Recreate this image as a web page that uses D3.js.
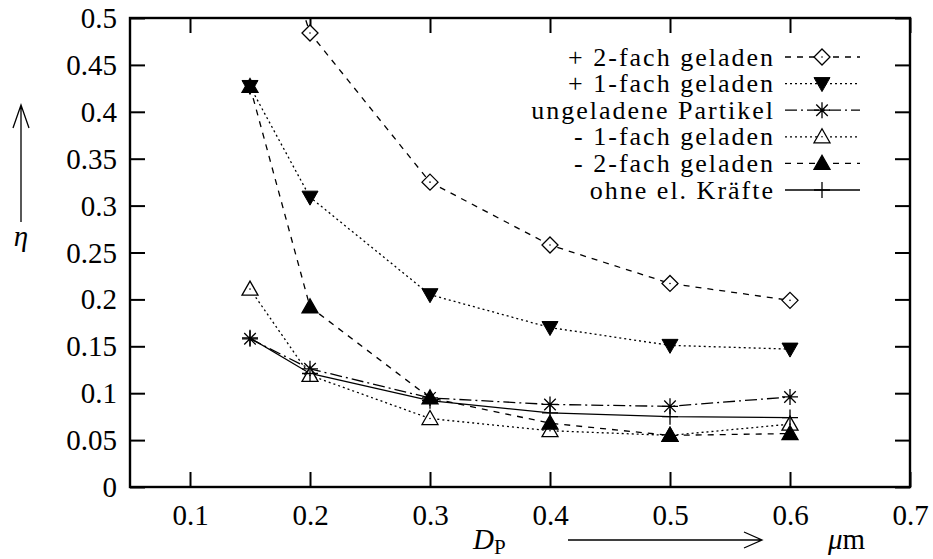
<!DOCTYPE html>
<html>
<head>
<meta charset="utf-8">
<script src="https://cdn.jsdelivr.net/npm/d3@7"></script>
<style>
  body { margin: 0; background: #fff; }
  svg { display: block; }
</style>
</head>
<body>
<div id="chart"></div>
<script>
// particle diameter in um
var diameters = [0.15, 0.2, 0.3, 0.4, 0.5, 0.6];

// separation efficiency eta for each charge state
var plus2 = [0.68, 0.484, 0.325, 0.258, 0.217, 0.199];
var plus1 = [0.427, 0.309, 0.205, 0.170, 0.151, 0.147];
var neutral = [0.158, 0.126, 0.095, 0.088, 0.086, 0.096];
var minus1 = [0.211, 0.119, 0.073, 0.060, 0.055, 0.067];
var minus2 = [0.427, 0.192, 0.095, 0.068, 0.055, 0.057];
var noForces = [0.159, 0.121, 0.092, 0.079, 0.075, 0.074];

var seriesNames = ["+ 2-fach geladen", "+ 1-fach geladen", "ungeladene Partikel",
  "- 1-fach geladen", "- 2-fach geladen", "ohne el. Kräfte"];

var xTicks = [0.1, 0.2, 0.3, 0.4, 0.5, 0.6, 0.7];
var yTicks = [0, 0.05, 0.1, 0.15, 0.2, 0.25, 0.3, 0.35, 0.4, 0.45, 0.5];

var series = [
  { name: seriesNames[0], values: plus2, dash: "6,6", marker: "diamond" },
  { name: seriesNames[1], values: plus1, dash: "2,3", marker: "triDownFilled" },
  { name: seriesNames[2], values: neutral, dash: "12,4,2,4", marker: "star" },
  { name: seriesNames[3], values: minus1, dash: "2,3", marker: "triUp" },
  { name: seriesNames[4], values: minus2, dash: "6,6", marker: "triUpFilled" },
  { name: seriesNames[5], values: noForces, dash: null, marker: "plus" }
];

var serif = "'Liberation Serif'";

var outerWidth = 933,
  outerHeight = 559,
  margin = { top: 18, right: 23, bottom: 72, left: 130 },
  width = outerWidth - margin.left - margin.right,
  height = outerHeight - margin.top - margin.bottom;

var svg = d3.select("#chart").append("svg")
  .attr("width", outerWidth)
  .attr("height", outerHeight)
  .style("font-family", serif);

var g = svg.append("g")
  .attr("transform", "translate(" + margin.left + "," + margin.top + ")");

var xScale = d3.scaleLinear().domain([0.05, 0.7]).range([0, width]);
var yScale = d3.scaleLinear().domain([0, 0.5]).range([height, 0]);

svg.append("defs").append("clipPath")
  .attr("id", "clip")
  .append("rect")
  .attr("width", width)
  .attr("height", height);

// axes with inward ticks, mirrored on top and right
var tickLen = 15;
var fmt = function(d) { return d === 0 ? "0" : d3.format("")(+d.toFixed(2)); };

g.append("g")
  .attr("class", "x axis")
  .attr("transform", "translate(0," + height + ")")
  .call(d3.axisBottom(xScale).tickValues(xTicks).tickSizeInner(-tickLen).tickSizeOuter(0).tickPadding(17).tickFormat(fmt));

g.append("g")
  .attr("class", "y axis")
  .call(d3.axisLeft(yScale).tickValues(yTicks).tickSizeInner(-tickLen).tickSizeOuter(0).tickPadding(13).tickFormat(fmt));

g.append("g")
  .attr("class", "x2 axis")
  .call(d3.axisTop(xScale).tickValues(xTicks).tickSizeInner(-tickLen).tickSizeOuter(0).tickFormat(""));

g.append("g")
  .attr("class", "y2 axis")
  .attr("transform", "translate(" + width + ",0)")
  .call(d3.axisRight(yScale).tickValues(yTicks).tickSizeInner(-tickLen).tickSizeOuter(0).tickFormat(""));

g.selectAll(".axis").attr("font-family", null).attr("font-size", null);
g.selectAll(".axis .domain").remove();
g.selectAll(".axis line").attr("stroke", "#000").attr("stroke-width", 2);
g.selectAll(".axis .tick text")
  .style("font-family", serif)
  .style("font-size", "29px")
  .attr("fill", "#000");
g.selectAll(".x.axis .tick text").attr("dy", "0.71em");
g.selectAll(".y.axis .tick text").attr("dy", "0.33em");

g.append("rect")
  .attr("width", width)
  .attr("height", height)
  .attr("fill", "none")
  .attr("stroke", "#000")
  .attr("stroke-width", 2.4);

// marker shapes
function drawMarker(sel, type, cx, cy) {
  var s = 8;
  var m = sel.append("g").attr("transform", "translate(" + cx + "," + cy + ")");
  if (type === "diamond") {
    m.append("path").attr("d", "M0," + (-s) + "L" + s + ",0L0," + s + "L" + (-s) + ",0Z")
      .attr("fill", "#fff").attr("stroke", "#000").attr("stroke-width", 1.3);
    m.append("circle").attr("r", 0.8).attr("fill", "#000");
  } else if (type === "triDownFilled") {
    m.append("path").attr("d", "M" + (-s) + "," + (-6) + "L" + s + "," + (-6) + "L0,8Z")
      .attr("fill", "#000").attr("stroke", "#000").attr("stroke-width", 1);
  } else if (type === "triUp" || type === "triUpFilled") {
    var filled = type === "triUpFilled";
    m.append("path").attr("d", "M" + (-s) + ",6L" + s + ",6L0,-8Z")
      .attr("fill", filled ? "#000" : "#fff").attr("stroke", "#000").attr("stroke-width", 1.3);
    if (!filled) m.append("circle").attr("r", 0.8).attr("fill", "#000");
  } else if (type === "star") {
    var d = s * 0.72;
    m.append("path").attr("d", "M" + (-s) + ",0H" + s + "M0," + (-s) + "V" + s +
        "M" + (-d) + "," + (-d) + "L" + d + "," + d + "M" + (-d) + "," + d + "L" + d + "," + (-d))
      .attr("stroke", "#000").attr("stroke-width", 1.3).attr("fill", "none");
  } else if (type === "plus") {
    m.append("path").attr("d", "M" + (-s) + ",0H" + s + "M0," + (-s) + "V" + s)
      .attr("stroke", "#000").attr("stroke-width", 1.3).attr("fill", "none");
  }
}

var line = d3.line()
  .x(function(d) { return xScale(d.x); })
  .y(function(d) { return yScale(d.y); });

var plot = g.append("g").attr("clip-path", "url(#clip)");

series.forEach(function(s) {
  var pts = diameters.map(function(x, i) { return { x: x, y: s.values[i] }; });
  plot.append("path")
    .datum(pts)
    .attr("d", line)
    .attr("fill", "none")
    .attr("stroke", "#000")
    .attr("stroke-width", 1.3)
    .attr("stroke-dasharray", s.dash);
});

series.forEach(function(s) {
  diameters.forEach(function(x, i) {
    if (s.values[i] <= 0.5) drawMarker(plot, s.marker, xScale(x), yScale(s.values[i]));
  });
});

// legend
var legend = g.append("g").attr("class", "legend")
  .attr("transform", "translate(" + (775 - margin.left) + "," + (57 - margin.top) + ")");
var rowH = 26.6;
series.forEach(function(s, i) {
  var y = i * rowH;
  legend.append("text")
    .attr("x", 0).attr("y", y).attr("dy", "0.33em")
    .attr("text-anchor", "end")
    .style("font-family", serif)
    .style("font-size", "26px")
    .style("letter-spacing", "2px")
    .text(s.name);
  legend.append("line")
    .attr("x1", 10).attr("x2", 85).attr("y1", y).attr("y2", y)
    .attr("stroke", "#000").attr("stroke-width", 1.3)
    .attr("stroke-dasharray", s.dash);
  drawMarker(legend, s.marker, 47, y);
});

// axis labels with arrows
var xl = svg.append("g");
xl.append("text").attr("x", 473).attr("y", 549).style("font-size", "29px").style("font-style", "italic").text("D")
  .append("tspan").attr("dy", 5).style("font-size", "21px").style("font-style", "normal").text("P");
xl.append("path").attr("d", "M568,540H762M744,532L762,540L744,548")
  .attr("fill", "none").attr("stroke", "#000").attr("stroke-width", 1.3);
xl.append("text").attr("x", 828).attr("y", 549).style("font-size", "29px")
  .html('<tspan font-style="italic">μ</tspan>m');

var yl = svg.append("g");
yl.append("path").attr("d", "M21,222V105M13,128L21,105L29,128")
  .attr("fill", "none").attr("stroke", "#000").attr("stroke-width", 1.3);
yl.append("text").attr("x", 21).attr("y", 246).attr("text-anchor", "middle")
  .style("font-size", "29px").style("font-style", "italic").text("η");
</script>
</body>
</html>
